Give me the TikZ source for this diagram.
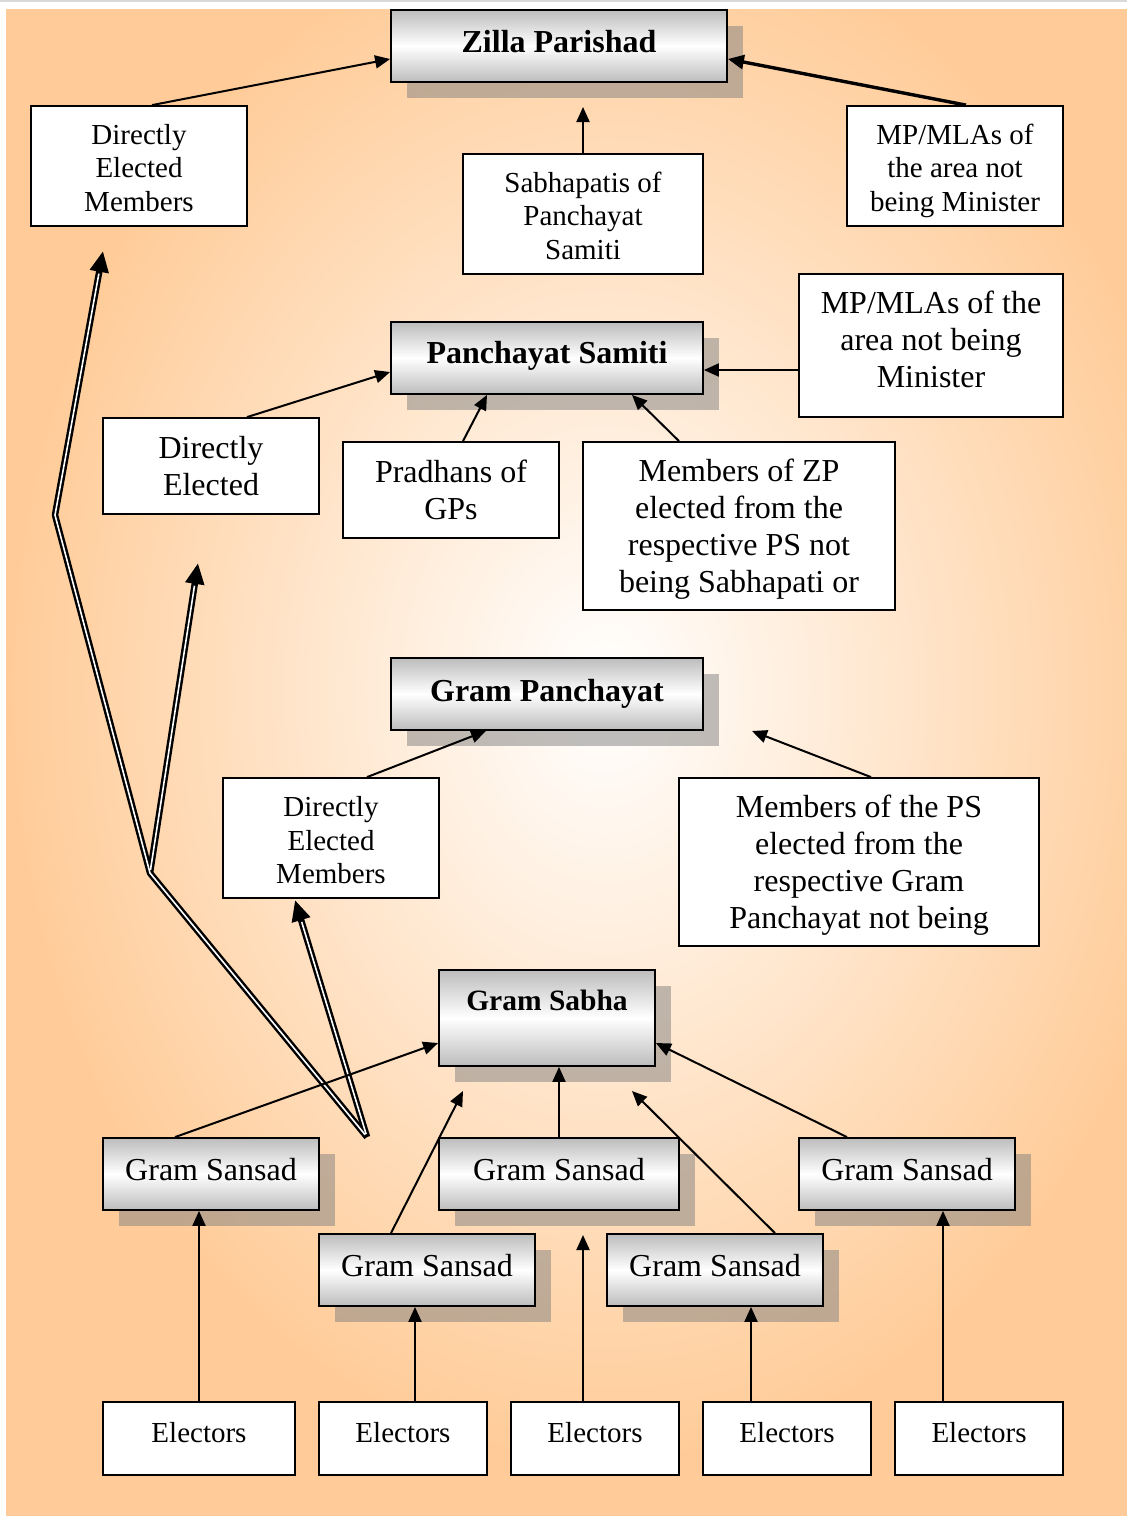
\documentclass[tikz,border=0pt]{standalone}
\usepackage{fontspec}
\setmainfont{Liberation Serif}
\usetikzlibrary{arrows.meta,calc,shadows}
\definecolor{bgorange}{RGB}{255,204,153}
% raise text by #1 without changing its box; #2 = lines separated by \\
\newcommand{\liftlines}[2]{\raisebox{#1}[\height][\depth]{\begin{tabular}{@{}c@{}}#2\end{tabular}}}
\newcommand{\liftone}[2]{\raisebox{#1}[\height][\depth]{#2}}
\begin{document}
\begin{tikzpicture}[x=1pt,y=-1pt,
  plainbox/.style={draw, fill=white, line width=1.8pt, align=center, inner sep=0pt},
  gradbox/.style={draw, line width=1.8pt, top color=black!26, bottom color=black!26, middle color=white,
    align=center, inner sep=0pt,
    general shadow={fill=black!50, fill opacity=0.5, shadow xshift=16pt, shadow yshift=-16pt}},
  smallf/.style={font=\fontsize{29}{33.5}\selectfont},
  bigf/.style={font=\fontsize{32}{37}\selectfont},
  boldf/.style={font=\fontsize{32}{37}\selectfont\bfseries},
  conn/.style={line width=2pt, -{Triangle[length=15pt,width=13pt]}},
  thickconn/.style={line width=3.4pt, -{Triangle[length=16pt,width=14pt]}},
  dblouter/.style={line width=6.5pt, line join=round, -{Triangle[length=21pt,width=18pt]}},
  dblinner/.style={line width=1.6pt, white, line join=round, shorten >=23pt, shorten <=3pt, xshift=-1pt}
]
% background
\useasboundingbox (0,0) rectangle (1127,1516);
\fill[white] (0,0) rectangle (1127,1516);
\fill[black!15] (0,0) rectangle (1127,1.5);
\begin{scope}
  \clip (6,9) rectangle (1127,1516);
  \fill[bgorange] (6,9) rectangle (1127,1516);
  \shade[inner color=white, outer color=bgorange] (10,-80) rectangle (1200,1460);
\end{scope}

% Level: Zilla Parishad
\node[gradbox, boldf, minimum width=336pt, minimum height=72pt] (zp) at (559,46) {\liftone{4pt}{Zilla Parishad}};
\node[plainbox, smallf, minimum width=216pt, minimum height=120pt] (dem1) at (139,166) {\liftlines{-5pt}{Directly\\Elected\\Members}};
\node[plainbox, smallf, minimum width=240pt, minimum height=120pt] (sab) at (583,214) {\liftlines{-5pt}{Sabhapatis of\\Panchayat\\Samiti}};
\node[plainbox, smallf, minimum width=216pt, minimum height=120pt] (mp1) at (955,166) {\liftlines{-5pt}{MP/MLAs of\\the area not\\being Minister}};

% Level: Panchayat Samiti
\node[gradbox, boldf, minimum width=312pt, minimum height=72pt] (ps) at (547,358) {\liftone{2pt}{Panchayat Samiti}};
\node[plainbox, bigf, minimum width=264pt, minimum height=143pt] (mp2) at (931,345.5) {\liftlines{2.5pt}{MP/MLAs of the\\area not being\\Minister}};
\node[plainbox, bigf, minimum width=216pt, minimum height=96pt] (de2) at (211,466) {\liftlines{-3.5pt}{Directly\\Elected}};
\node[plainbox, bigf, minimum width=216pt, minimum height=96pt] (pra) at (451,490) {\liftlines{-3.5pt}{Pradhans of\\GPs}};
\node[plainbox, bigf, minimum width=312pt, minimum height=168pt] (mzp) at (739,526) {\liftlines{-4pt}{Members of ZP\\elected from the\\respective PS not\\being Sabhapati or}};

% Level: Gram Panchayat
\node[gradbox, boldf, minimum width=312pt, minimum height=72pt] (gp) at (547,694) {Gram Panchayat};
\node[plainbox, smallf, minimum width=216pt, minimum height=120pt] (dem3) at (331,838) {\liftlines{-5.5pt}{Directly\\Elected\\Members}};
\node[plainbox, bigf, minimum width=360pt, minimum height=168pt] (mps) at (859,862) {\liftlines{-4pt}{Members of the PS\\elected from the\\respective Gram\\Panchayat not being}};

% Level: Gram Sabha
\node[gradbox, font=\fontsize{29.5}{34}\selectfont\bfseries, minimum width=216pt, text height=40pt, text depth=56pt] (gs) at (547,1018) {Gram Sabha};

% Gram Sansads
\node[gradbox, bigf, minimum width=216pt, minimum height=72pt] (gss1) at (211,1174) {\liftone{4pt}{Gram Sansad}};
\node[gradbox, bigf, minimum width=240pt, minimum height=72pt] (gss2) at (559,1174) {\liftone{4pt}{Gram Sansad}};
\node[gradbox, bigf, minimum width=216pt, minimum height=72pt] (gss3) at (907,1174) {\liftone{4pt}{Gram Sansad}};
\node[gradbox, bigf, minimum width=216pt, minimum height=72pt] (gss4) at (427,1270) {\liftone{4pt}{Gram Sansad}};
\node[gradbox, bigf, minimum width=216pt, minimum height=72pt] (gss5) at (715,1270) {\liftone{4pt}{Gram Sansad}};

% Electors
\node[plainbox, smallf, minimum width=192pt, minimum height=73pt] (e1) at (199,1438.5) {\liftone{6pt}{Electors}};
\node[plainbox, smallf, minimum width=168pt, minimum height=73pt] (e2) at (403,1438.5) {\liftone{6pt}{Electors}};
\node[plainbox, smallf, minimum width=168pt, minimum height=73pt] (e3) at (595,1438.5) {\liftone{6pt}{Electors}};
\node[plainbox, smallf, minimum width=168pt, minimum height=73pt] (e4) at (787,1438.5) {\liftone{6pt}{Electors}};
\node[plainbox, smallf, minimum width=168pt, minimum height=73pt] (e5) at (979,1438.5) {\liftone{6pt}{Electors}};

% free ends
\coordinate (sabtip) at (583,107);
\coordinate (mpstip) at (752,731);
\coordinate (gss4tip) at (463,1091);
\coordinate (gss5tip) at (632,1091);
\coordinate (e3tip) at (583,1235);
\coordinate (apex) at (367,1137);
\coordinate (bend) at (150,873);
\coordinate (knee) at (55,515);
\coordinate (tipA) at (103,251);
\coordinate (tipB) at (198,563);

% double (vote) arrows
\draw[dblouter] (apex) -- (bend) -- (knee) -- (tipA);
\draw[dblouter] (bend) -- (tipB);
\draw[dblouter] (apex) -- ($(dem3.south)+(-36,1)$);
\draw[dblinner] (apex) -- (bend) -- (knee) -- (tipA);
\draw[dblinner] (bend) -- (tipB);
\draw[dblinner] (apex) -- ($(dem3.south)+(-36,1)$);

% connectors to Zilla Parishad
\draw[conn] ($(dem1.north)+(13,0)$) -- ($(zp.west)+(0,13)$);
\draw[conn] (sab.north) -- (sabtip);
\draw[thickconn] ($(mp1.north)+(11,0)$) -- ($(zp.east)+(0,13)$);

% connectors to Panchayat Samiti
\draw[conn] ($(mp2.west)+(0,24.5)$) -- ($(ps.east)+(0,12)$);
\draw[conn] ($(de2.north)+(36,0)$) -- ($(ps.west)+(0,14)$);
\draw[conn] ($(pra.north)+(12,0)$) -- ($(ps.south)+(-60,0)$);
\draw[conn] ($(mzp.north)+(-60,0)$) -- ($(ps.south)+(85,0)$);

% connectors to Gram Panchayat
\draw[conn] ($(dem3.north)+(36,0)$) -- ($(gp.south)+(-61,0)$);
\draw[conn] ($(mps.north)+(12,0)$) -- (mpstip);

% connectors to Gram Sabha
\draw[conn] ($(gss1.north)+(-36,0)$) -- ($(gs.west)+(0,25)$);
\draw[conn] (gss2.north) -- ($(gs.south)+(12,0)$);
\draw[conn] ($(gss3.north)+(-60,0)$) -- ($(gs.east)+(0,25)$);
\draw[conn] ($(gss4.north)+(-36,0)$) -- (gss4tip);
\draw[conn] ($(gss5.north)+(60,0)$) -- (gss5tip);

% electors to Gram Sansads
\draw[conn] (e1.north) -- ($(gss1.south)+(-12,0)$);
\draw[conn] ($(e2.north)+(12,0)$) -- ($(gss4.south)+(-12,0)$);
\draw[conn] ($(e3.north)+(-12,0)$) -- (e3tip);
\draw[conn] ($(e4.north)+(-36,0)$) -- ($(gss5.south)+(36,0)$);
\draw[conn] ($(e5.north)+(-36,0)$) -- ($(gss3.south)+(36,0)$);
\end{tikzpicture}
\end{document}
